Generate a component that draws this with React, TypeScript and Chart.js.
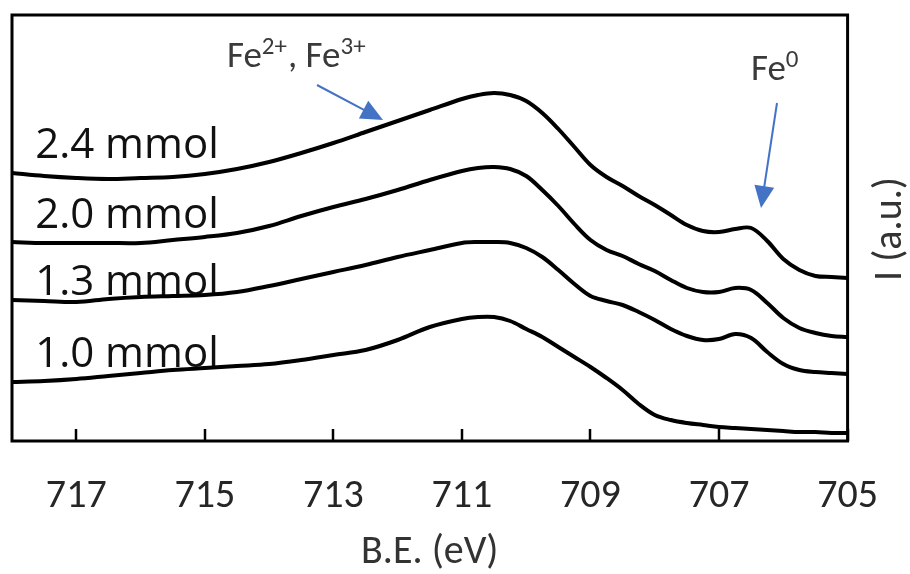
import React, { useEffect, useRef } from "react";
import { Chart, registerables } from "chart.js";

Chart.register(...registerables);

// Binding energy (eV), shared by all spectra
const BE = [
  718, 717.5, 717, 716.5, 716, 715.5, 715, 714.5, 714, 713.5, 713, 712.5, 712,
  711.5, 711, 710.75, 710.5, 710.25, 710, 709.75, 709.5, 709.25, 709, 708.75,
  708.5, 708.25, 708, 707.75, 707.5, 707.25, 707, 706.75, 706.5, 706.25, 706,
  705.75, 705.5, 705.25, 705,
];

// Intensities (a.u., stacked offsets)
const I_24 = [
  268, 265, 263, 262, 263, 264, 267, 272, 279, 288, 298, 309, 320, 331, 342,
  346, 348, 346, 340, 328, 312, 294, 276, 264, 255, 245, 236, 226, 216, 210,
  209, 212, 213, 200, 182, 171, 165, 164, 163,
];
const I_20 = [
  199, 198, 198, 198, 198, 201, 204, 208, 215, 225, 234, 242, 251, 261, 270,
  273, 274, 272, 265, 251, 235, 217, 201, 191, 185, 177, 170, 161, 153, 149,
  149, 153, 151, 138, 123, 113, 108, 105, 104,
];
const I_13 = [
  141, 140, 139, 142, 144, 145, 146, 149, 155, 162, 169, 176, 184, 191, 198,
  199, 199, 198, 193, 184, 171, 157, 145, 140, 136, 129, 121, 112, 105, 101,
  102, 107, 103, 89, 77, 71, 69, 68, 67,
];
const I_10 = [
  59, 60, 62, 65, 68, 71, 73, 75, 77, 81, 86, 91, 101, 114, 122, 124, 124, 120,
  112, 104, 94, 84, 74, 63, 51, 37, 26, 21, 18, 16, 14, 13, 12, 11, 10, 9, 9,
  8, 8,
];

const SERIES = [I_24, I_20, I_13, I_10];
const SERIES_LABELS = ["2.4 mmol", "2.0 mmol", "1.3 mmol", "1.0 mmol"];
const X_TICKS = [717, 715, 713, 711, 709, 707, 705];
const X_TITLE = "B.E. (eV)";
const Y_TITLE = "I (a.u.)";

// annotation anchors (data coordinates)
const LABEL_X = 717.64;
const LABEL_Y = [283, 213, 146, 74];

const FONT = "Carlito, 'Open Sans', sans-serif";
const LABEL_FONT = "'Open Sans', sans-serif";
const BLUE = "#4472C4";

function drawArrow(ctx: CanvasRenderingContext2D, x1: number, y1: number, x2: number, y2: number) {
  const dx = x2 - x1;
  const dy = y2 - y1;
  const len = Math.hypot(dx, dy);
  const ux = dx / len;
  const uy = dy / len;
  const head = 22;
  const half = 10;
  const bx = x2 - ux * head;
  const by = y2 - uy * head;
  ctx.strokeStyle = BLUE;
  ctx.fillStyle = BLUE;
  ctx.lineWidth = 2;
  ctx.beginPath();
  ctx.moveTo(x1, y1);
  ctx.lineTo(bx + ux * 2, by + uy * 2);
  ctx.stroke();
  ctx.beginPath();
  ctx.moveTo(x2, y2);
  ctx.lineTo(bx - uy * half, by + ux * half);
  ctx.lineTo(bx + uy * half, by - ux * half);
  ctx.closePath();
  ctx.fill();
}

// draw a sequence of [text, isSuperscript] pieces
function drawRich(ctx: CanvasRenderingContext2D, parts: [string, boolean][], x0: number, base: number) {
  const big = `37px ${FONT}`;
  const sup = `25px ${FONT}`;
  let x = x0;
  parts.forEach(([t, s]) => {
    ctx.font = s ? sup : big;
    ctx.fillText(t, x, s ? base - 13 : base);
    x += ctx.measureText(t).width + (s ? 1 : 0);
  });
}

const annotPlugin = {
  id: "annot",
  beforeDatasetsDraw(chart: any) {
    const { ctx, scales } = chart;
    const x = scales.x;
    const y = scales.y;
    ctx.save();
    ctx.fillStyle = "#111111";
    ctx.font = `42px ${LABEL_FONT}`;
    ctx.textAlign = "left";
    ctx.textBaseline = "alphabetic";
    SERIES_LABELS.forEach((t, i) => {
      ctx.fillText(t, x.getPixelForValue(LABEL_X), y.getPixelForValue(LABEL_Y[i]));
    });
    ctx.restore();
  },
  afterDatasetsDraw(chart: any) {
    const { ctx, chartArea, scales } = chart;
    const x = scales.x;
    const { left, right, top, bottom } = chartArea;
    ctx.save();
    // frame
    ctx.strokeStyle = "#000";
    ctx.lineWidth = 3;
    ctx.strokeRect(left, top, right - left, bottom - top);
    // inward tick marks
    ctx.lineWidth = 2.5;
    X_TICKS.forEach((v) => {
      const px = Math.round(x.getPixelForValue(v));
      ctx.beginPath();
      ctx.moveTo(px, bottom);
      ctx.lineTo(px, bottom - 12);
      ctx.stroke();
    });

    // annotations
    ctx.fillStyle = "#3a3a3a";
    ctx.textAlign = "left";
    ctx.textBaseline = "alphabetic";
    drawRich(ctx, [["Fe", false], ["2+", true], [", Fe", false], ["3+", true]], 227, 67);
    drawRich(ctx, [["Fe", false], ["0", true]], 751, 80);

    drawArrow(ctx, 317, 85, 383, 120);
    drawArrow(ctx, 777, 103, 761, 208);

    // y title (reads bottom-to-top)
    ctx.translate(901, 229);
    ctx.rotate(-Math.PI / 2);
    ctx.font = `40px ${FONT}`;
    ctx.fillStyle = "#333333";
    ctx.textAlign = "center";
    ctx.textBaseline = "alphabetic";
    ctx.fillText(Y_TITLE, 0, 0);
    ctx.restore();
  },
};

export default function App() {
  const ref = useRef<HTMLCanvasElement | null>(null);
  useEffect(() => {
    if (!ref.current) return;
    const chart = new Chart(ref.current, {
      type: "line",
      data: {
        datasets: SERIES.map((s, i) => ({
          label: SERIES_LABELS[i],
          data: BE.map((b, j) => ({ x: b, y: s[j] })),
          borderColor: "#000000",
          borderWidth: 4,
          pointRadius: 0,
          tension: 0.35,
          fill: false,
        })),
      },
      options: {
        animation: false,
        responsive: false,
        layout: { padding: { left: 12, right: 58, top: 15, bottom: 0 } },
        plugins: { legend: { display: false }, tooltip: { enabled: false } },
        scales: {
          x: {
            type: "linear",
            reverse: true,
            min: 705,
            max: 718,
            afterBuildTicks: (s: any) => {
              s.ticks = X_TICKS.map((v) => ({ value: v }));
            },
            afterFit: (s: any) => {
              s.height = 133;
            },
            grid: { display: false, drawTicks: false },
            border: { display: false },
            ticks: {
              autoSkip: false,
              maxRotation: 0,
              padding: 32,
              color: "#262626",
              font: { family: FONT, size: 40 },
              callback: (v: any) => String(v),
            },
            title: {
              display: true,
              text: X_TITLE,
              color: "#333333",
              font: { family: FONT, size: 40 },
              padding: { top: 0, bottom: -3 },
            },
          },
          y: { display: false, min: 0, max: 426 },
        },
      },
      plugins: [annotPlugin],
    });
    return () => chart.destroy();
  }, []);
  return (
    <div style={{ position: "absolute", left: 0, top: 0, width: 910, height: 574, background: "#fff" }}>
      <canvas ref={ref} width={910} height={574} />
    </div>
  );
}
